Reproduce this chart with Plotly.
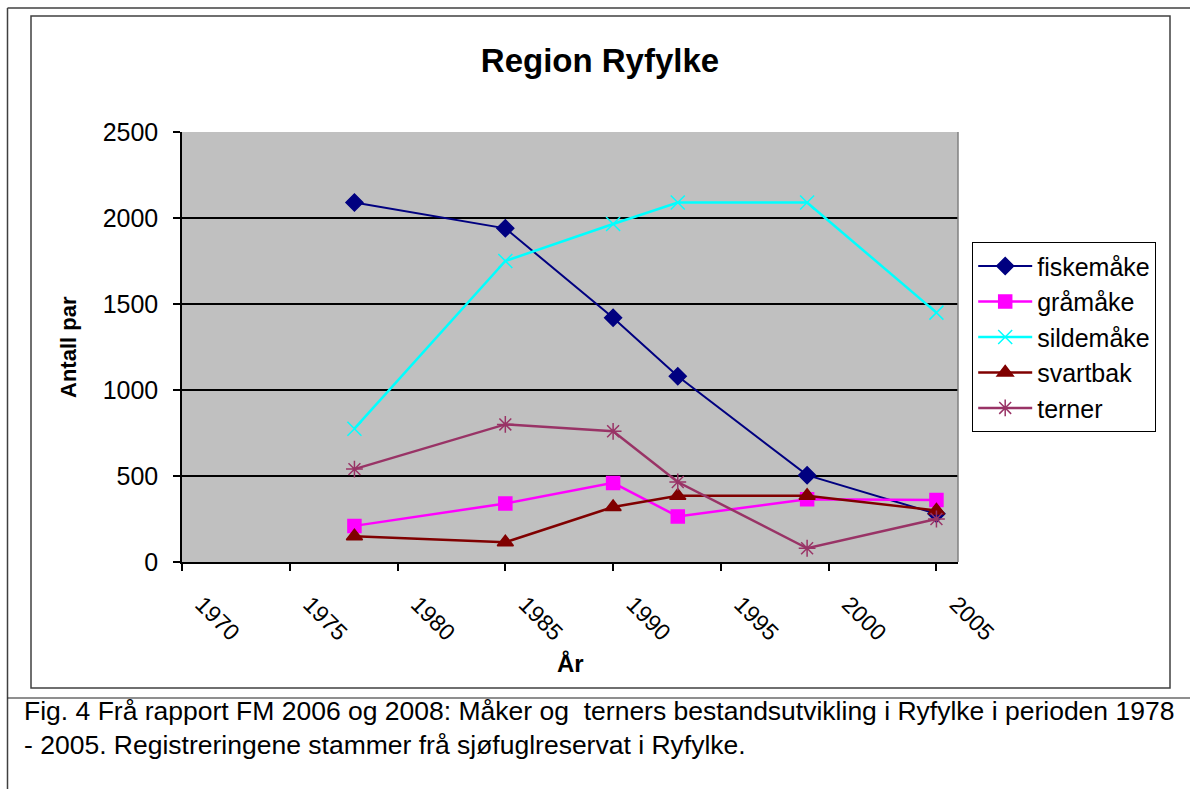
import plotly.graph_objects as go

years = [1978, 1985, 1990, 1993, 1999, 2005]
fiskemake = [2090, 1940, 1420, 1080, 505, 280]
gramake = [210, 340, 460, 265, 365, 360]
sildemake = [775, 1750, 1965, 2090, 2090, 1450]
svartbak = [150, 115, 320, 385, 385, 300]
terner = [540, 800, 760, 465, 80, 250]

series_names = ["fiskemåke", "gråmåke", "sildemåke", "svartbak", "terner"]
x_ticks = [1970, 1975, 1980, 1985, 1990, 1995, 2000, 2005]
y_ticks = [0, 500, 1000, 1500, 2000, 2500]

title_text = "Region Ryfylke"
y_title = "Antall par"
x_title = "År"
caption = ("Fig. 4 Frå rapport FM 2006 og 2008: Måker og\u00a0 terners bestandsutvikling i Ryfylke i perioden 1978"
           "<br>- 2005. Registreringene stammer frå sjøfuglreservat i Ryfylke.")

FONT = "Arial, 'Liberation Sans', sans-serif"
WIDTH, HEIGHT = 1190, 789
L, R, T, B = 182, 958, 132, 562


def px(x):
    return (x - L) / (R - L)


def py(y):
    return (B - y) / (B - T)


styles = [
    dict(color="#000080", symbol="diamond", size=13, width=2),
    dict(color="#FF00FF", symbol="square", size=13, width=2.5),
    dict(color="#00FFFF", symbol="x-thin", size=14, width=2.5),
    dict(color="#800000", symbol="triangle-up", size=14, width=2.5),
    dict(color="#993366", symbol="asterisk", size=14, width=2.5),
]
values = [fiskemake, gramake, sildemake, svartbak, terner]

fig = go.Figure()
for i, (name, vals, st) in enumerate(zip(series_names, values, styles)):
    fig.add_trace(go.Scatter(
        x=years, y=vals, name=name, mode="lines+markers",
        legendgroup=f"g{i}",
        line=dict(color=st["color"], width=st["width"]),
        marker=dict(symbol=st["symbol"], size=st["size"], color=st["color"],
                    line=dict(color=st["color"], width=1.5)),
    ))

shapes = [
    # outer frame (left + top)
    dict(type="line", xref="paper", yref="paper", x0=px(7.5), x1=px(7.5), y0=py(789), y1=py(8),
         line=dict(color="#404040", width=1.5)),
    dict(type="line", xref="paper", yref="paper", x0=px(7.5), x1=px(1190), y0=py(8), y1=py(8),
         line=dict(color="#404040", width=1.5)),
    # chart area border
    dict(type="rect", xref="paper", yref="paper", x0=px(31), x1=px(1170), y0=py(688), y1=py(16),
         line=dict(color="#404040", width=1.5), layer="below"),
    # caption separator
    dict(type="line", xref="paper", yref="paper", x0=px(7.5), x1=px(1190), y0=py(698), y1=py(698),
         line=dict(color="#202020", width=1.2)),
    # plot area right edge
    dict(type="line", xref="paper", yref="paper", x0=1, x1=1, y0=0, y1=1,
         line=dict(color="#808080", width=1.5)),
]

annotations = [
    dict(text=f"<b>{y_title}</b>", xref="paper", yref="paper", x=px(68), y=py(347),
         textangle=-90, showarrow=False, font=dict(family=FONT, size=22, color="black"),
         xanchor="center", yanchor="middle"),
    dict(text=f"<b>{x_title}</b>", xref="paper", yref="paper", x=px(570), y=py(663),
         showarrow=False, font=dict(family=FONT, size=24, color="black"),
         xanchor="center", yanchor="middle"),
    dict(text=caption, xref="paper", yref="paper", x=px(22), y=py(694),
         showarrow=False, align="left", font=dict(family=FONT, size=26.5, color="black"),
         xanchor="left", yanchor="top"),
]

fig.update_layout(
    width=WIDTH, height=HEIGHT,
    margin=dict(l=L, r=WIDTH - R, t=T, b=HEIGHT - B, autoexpand=False),
    paper_bgcolor="white",
    plot_bgcolor="#C0C0C0",
    font=dict(family=FONT, color="black"),
    title=dict(text=f"<b>{title_text}</b>", xref="paper", x=px(600), xanchor="center",
               yref="container", y=1 - 60 / HEIGHT, yanchor="middle",
               font=dict(family=FONT, size=33, color="black")),
    xaxis=dict(range=[1970, 2006], tickmode="array", tickvals=x_ticks,
               ticktext=[str(v) for v in x_ticks], tickangle=45,
               ticks="outside", ticklen=7, tickcolor="black", tickwidth=1.5,
               showline=True, linecolor="black", linewidth=1.5, mirror=False,
               showgrid=False, zeroline=False, ticklabelstandoff=11, ticklabelshift=20,
               tickfont=dict(family=FONT, size=23, color="black")),
    yaxis=dict(range=[0, 2500], tickmode="array", tickvals=y_ticks,
               ticks="outside", ticklen=7, tickcolor="black", tickwidth=1.5,
               showline=True, linecolor="black", linewidth=1.5,
               showgrid=True, gridcolor="black", gridwidth=1.5, zeroline=False,
               ticklabelstandoff=10,
               tickfont=dict(family=FONT, size=25, color="black")),
    legend=dict(x=px(972), y=py(242), xanchor="left", yanchor="top",
                bgcolor="white", bordercolor="black", borderwidth=1.2,
                font=dict(family=FONT, size=25, color="black"),
                itemwidth=54, tracegroupgap=6, traceorder="normal"),
    shapes=shapes,
    annotations=annotations,
    showlegend=True,
)

fig.write_html("out.html", config={"displayModeBar": False},
               post_script="document.body.style.margin='0';")
